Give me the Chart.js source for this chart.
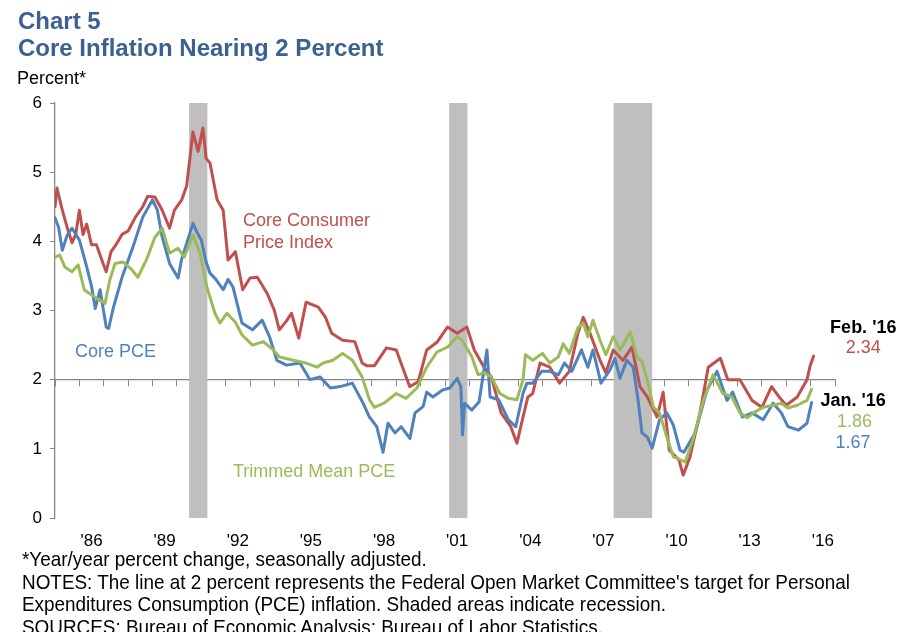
<!DOCTYPE html>
<html>
<head>
<meta charset="utf-8">
<script src="https://cdn.jsdelivr.net/npm/chart.js@4.4.1/dist/chart.umd.min.js"></script>
<style>
  body { margin: 0; background: #fff; font-family: "Liberation Sans", Arial, sans-serif; }
  #page { position: relative; width: 899px; height: 632px; overflow: hidden; }
  #chart { position: absolute; left: 0; top: 0; }
  .title { position: absolute; left: 18px; color: #3b6192; font-weight: bold; font-size: 24px; line-height: 24px; white-space: nowrap; }
  .unit { position: absolute; left: 17px; top: 69px; font-size: 18px; line-height: 18px; color: #000; }
  .note { position: absolute; left: 22px; font-size: 21px; line-height: 22px; color: #000; white-space: nowrap;
          transform: scaleX(0.9); transform-origin: left center; }
</style>
</head>
<body>
<div id="page">
  <canvas id="chart" width="899" height="632"></canvas>
  <div class="title" style="top:9px">Chart 5</div>
  <div class="title" style="top:36px">Core Inflation Nearing 2 Percent</div>
  <div class="unit">Percent*</div>
  <div class="note" style="top:548px">*Year/year percent change, seasonally adjusted.</div>
  <div class="note" style="top:571px">NOTES: The line at 2 percent represents the Federal Open Market Committee's target for Personal</div>
  <div class="note" style="top:593px">Expenditures Consumption (PCE) inflation. Shaded areas indicate recession.</div>
  <div class="note" style="top:616px">SOURCES: Bureau of Economic Analysis; Bureau of Labor Statistics.</div>
</div>
<script>
// 核心CPI（年同比，%）
const cpiDates = [1985.0, 1985.08, 1985.3, 1985.5, 1985.7, 1985.85, 1986.0, 1986.15, 1986.3, 1986.5, 1986.7, 1986.9,
  1987.1, 1987.3, 1987.5, 1987.75, 1988.0, 1988.3, 1988.6, 1988.8, 1989.1, 1989.4, 1989.7, 1989.9,
  1990.2, 1990.4, 1990.55, 1990.66, 1990.87, 1991.07, 1991.2, 1991.36, 1991.65, 1991.9, 1992.1, 1992.4,
  1992.7, 1993.0, 1993.3, 1993.7, 1994.0, 1994.2, 1994.5, 1994.7, 1995.0, 1995.3, 1995.8, 1996.1,
  1996.35, 1996.8, 1997.3, 1997.6, 1997.8, 1998.1, 1998.6, 1999.0, 1999.3, 1999.55, 1999.9, 2000.25,
  2000.67, 2001.1, 2001.5, 2001.9, 2002.2, 2002.6, 2002.9, 2003.3, 2003.7, 2003.95, 2004.2, 2004.4,
  2004.6, 2004.9, 2005.3, 2005.7, 2006.1, 2006.45, 2006.67, 2006.95, 2007.36, 2007.6, 2007.9, 2008.3,
  2008.67, 2009.0, 2009.3, 2009.7, 2009.95, 2010.2, 2010.6, 2010.77, 2011.05, 2011.46, 2011.8, 2012.3,
  2012.6, 2013.1, 2013.6, 2014.0, 2014.4, 2014.75, 2015.0, 2015.45, 2015.85, 2015.98, 2016.12];
const cpiValues = [4.5, 4.77, 4.45, 4.2, 3.98, 4.1, 4.45, 4.1, 4.25, 3.95, 3.95, 3.75,
  3.56, 3.85, 3.95, 4.1, 4.15, 4.35, 4.5, 4.65, 4.64, 4.45, 4.19, 4.45,
  4.6, 4.8, 5.25, 5.58, 5.3, 5.64, 5.2, 5.13, 4.6, 4.45, 3.73, 3.85,
  3.3, 3.47, 3.48, 3.25, 3.0, 2.72, 2.85, 2.96, 2.6, 3.12, 3.05, 2.9,
  2.67, 2.57, 2.55, 2.24, 2.2, 2.2, 2.46, 2.43, 2.14, 1.9, 1.97, 2.43,
  2.54, 2.76, 2.67, 2.76, 2.43, 2.18, 2.04, 1.52, 1.32, 1.08, 1.46, 1.75,
  1.8, 2.24, 2.18, 1.95, 2.12, 2.67, 2.9, 2.67, 2.28, 2.1, 2.43, 2.28,
  2.47, 1.9, 1.75, 1.46, 1.82, 0.98, 0.84, 0.62, 0.88, 1.52, 2.18, 2.31,
  2.0, 2.0, 1.7, 1.6, 1.9, 1.73, 1.63, 1.75, 2.0, 2.2, 2.34];

// 核心PCE
const pceDates = [1985.0, 1985.15, 1985.3, 1985.5, 1985.7, 1986.0, 1986.3, 1986.5, 1986.65, 1986.85, 1987.1, 1987.2,
  1987.4, 1987.75, 1988.2, 1988.6, 1989.0, 1989.2, 1989.4, 1989.7, 1990.05, 1990.2, 1990.4, 1990.66,
  1990.8, 1991.0, 1991.2, 1991.36, 1991.6, 1991.9, 1992.1, 1992.3, 1992.67, 1993.1, 1993.5, 1993.8,
  1994.1, 1994.5, 1995.05, 1995.46, 1995.87, 1996.3, 1996.7, 1997.2, 1997.64, 1997.9, 1998.2, 1998.46,
  1998.66, 1998.95, 1999.2, 1999.56, 1999.77, 2000.1, 2000.25, 2000.5, 2000.9, 2001.2, 2001.5, 2001.65,
  2001.72, 2001.8, 2002.1, 2002.4, 2002.72, 2002.85, 2003.2, 2003.6, 2003.9, 2004.2, 2004.36, 2004.6,
  2004.97, 2005.3, 2005.65, 2005.9, 2006.2, 2006.6, 2006.86, 2007.07, 2007.4, 2007.77, 2007.97, 2008.18,
  2008.46, 2008.72, 2008.92, 2009.08, 2009.3, 2009.5, 2009.8, 2010.1, 2010.37, 2010.64, 2010.8, 2011.26,
  2011.75, 2012.16, 2012.57, 2012.8, 2013.2, 2013.6, 2014.05, 2014.46, 2014.8, 2015.07, 2015.5, 2015.85, 2016.04];
const pceValues = [4.34, 4.2, 3.87, 4.09, 4.19, 4.02, 3.63, 3.35, 3.03, 3.3, 2.76, 2.74,
  3.05, 3.48, 3.92, 4.35, 4.6, 4.45, 4.06, 3.68, 3.47, 3.75, 3.97, 4.26,
  4.15, 4.02, 3.7, 3.54, 3.45, 3.3, 3.45, 3.34, 2.82, 2.72, 2.86, 2.62,
  2.28, 2.21, 2.24, 2.0, 2.04, 1.88, 1.9, 1.95, 1.66, 1.46, 1.32, 0.95,
  1.37, 1.23, 1.32, 1.15, 1.52, 1.61, 1.82, 1.75, 1.85, 1.88, 2.02, 1.9,
  1.2, 1.66, 1.56, 1.68, 2.43, 1.75, 1.71, 1.42, 1.32, 1.8, 1.95, 1.95,
  2.12, 2.12, 2.07, 2.24, 2.12, 2.43, 2.18, 2.43, 1.95, 2.14, 2.31, 2.02,
  2.28, 2.18, 1.71, 1.23, 1.17, 1.01, 1.42, 1.52, 1.34, 0.98, 0.95, 1.23,
  1.85, 2.12, 1.7, 1.82, 1.46, 1.52, 1.42, 1.66, 1.52, 1.32, 1.27, 1.37, 1.67];

// 截尾均值PCE
const trimDates = [1985.0, 1985.2, 1985.4, 1985.7, 1985.95, 1986.2, 1986.4, 1986.7, 1987.05, 1987.25, 1987.46, 1987.8,
  1988.15, 1988.4, 1988.77, 1989.1, 1989.4, 1989.7, 1990.05, 1990.3, 1990.66, 1990.95, 1991.23, 1991.56,
  1991.77, 1992.05, 1992.4, 1992.67, 1993.1, 1993.55, 1993.95, 1994.2, 1994.77, 1995.3, 1995.75, 1996.0,
  1996.4, 1996.8, 1997.2, 1997.6, 1997.9, 1998.1, 1998.5, 1999.0, 1999.4, 1999.85, 2000.25, 2000.67,
  2001.1, 2001.5, 2001.7, 2002.1, 2002.36, 2002.6, 2002.9, 2003.25, 2003.6, 2003.95, 2004.2, 2004.3,
  2004.6, 2005.0, 2005.3, 2005.65, 2005.85, 2006.1, 2006.45, 2006.67, 2006.86, 2007.07, 2007.36, 2007.6,
  2007.9, 2008.18, 2008.6, 2008.87, 2009.08, 2009.33, 2009.55, 2009.8, 2010.1, 2010.37, 2010.5, 2010.85,
  2011.17, 2011.6, 2012.0, 2012.4, 2012.77, 2013.1, 2013.4, 2013.7, 2014.05, 2014.46, 2014.8, 2015.07,
  2015.45, 2015.85, 2016.04];
const trimValues = [3.77, 3.8, 3.63, 3.56, 3.66, 3.3, 3.25, 3.18, 3.1, 3.44, 3.68, 3.7,
  3.59, 3.48, 3.75, 4.06, 4.19, 3.83, 3.9, 3.77, 4.09, 3.83, 3.34, 2.96,
  2.82, 2.96, 2.83, 2.65, 2.5, 2.55, 2.43, 2.33, 2.28, 2.24, 2.18, 2.24,
  2.28, 2.38, 2.28, 2.04, 1.71, 1.6, 1.66, 1.8, 1.73, 1.88, 2.18, 2.4,
  2.47, 2.62, 2.57, 2.33, 2.07, 2.1, 2.04, 1.8, 1.73, 1.71, 2.0, 2.36,
  2.28, 2.38, 2.24, 2.33, 2.52, 2.38, 2.75, 2.82, 2.62, 2.86, 2.57, 2.36,
  2.62, 2.43, 2.69, 2.33, 2.26, 1.95, 1.6, 1.52, 1.17, 0.88, 0.87, 0.81,
  1.13, 1.7, 2.07, 1.8, 1.75, 1.52, 1.45, 1.53, 1.6, 1.63, 1.66, 1.59,
  1.63, 1.7, 1.86];

// 衰退区间
const recessionStart = [1990.5, 2001.17, 2007.92];
const recessionEnd = [1991.25, 2001.92, 2009.5];

// 坐标轴
const yearMin = 1985;
const yearMax = 2017;
const yearLabels = ["'86", "'89", "'92", "'95", "'98", "'01", "'04", "'07", "'10", "'13", "'16"];
const yearLabelAt = [1986, 1989, 1992, 1995, 1998, 2001, 2004, 2007, 2010, 2013, 2016];
const yTicks = [0, 1, 2, 3, 4, 5, 6];

const RED = '#c0504d';
const BLUE = '#4f81bd';
const GREEN = '#9bbb59';
const FONT = '"Liberation Sans", Arial, sans-serif';

function toPoints(dates, values) {
    return dates.map((d, i) => ({ x: d, y: values[i] }));
}

// 衰退阴影
const recessionPlugin = {
    id: 'recessions',
    beforeDatasetsDraw(chart) {
        const { ctx, chartArea, scales } = chart;
        ctx.save();
        ctx.fillStyle = '#bfbfbf';
        recessionStart.forEach((s, i) => {
            const x1 = scales.x.getPixelForValue(s);
            const x2 = scales.x.getPixelForValue(recessionEnd[i]);
            ctx.fillRect(x1, chartArea.top, x2 - x1, chartArea.bottom - chartArea.top);
        });
        ctx.restore();
    }
};

// 图中文字标注
const notes = [
    { text: 'Core Consumer', x: 1992.71, y: 4.29, color: RED, align: 'left', bold: false },
    { text: 'Price Index', x: 1992.71, y: 3.97, color: RED, align: 'left', bold: false },
    { text: 'Core PCE', x: 1985.82, y: 2.4, color: BLUE, align: 'left', bold: false },
    { text: 'Trimmed Mean PCE', x: 1992.3, y: 0.67, color: GREEN, align: 'left', bold: false },
    { text: "Feb. '16", x: 2018.16, y: 2.75, color: '#000', align: 'center', bold: true },
    { text: '2.34', x: 2018.16, y: 2.46, color: RED, align: 'center', bold: false },
    { text: "Jan. '16", x: 2017.74, y: 1.69, color: '#000', align: 'center', bold: true },
    { text: '1.86', x: 2017.8, y: 1.39, color: GREEN, align: 'center', bold: false },
    { text: '1.67', x: 2017.74, y: 1.09, color: BLUE, align: 'center', bold: false }
];

const notesPlugin = {
    id: 'notes',
    afterDraw(chart) {
        const { ctx, scales } = chart;
        ctx.save();
        ctx.textBaseline = 'middle';
        notes.forEach(n => {
            ctx.font = (n.bold ? 'bold ' : '') + '18px ' + FONT;
            ctx.fillStyle = n.color;
            ctx.textAlign = n.align;
            ctx.fillText(n.text, scales.x.getPixelForValue(n.x), scales.y.getPixelForValue(n.y));
        });
        ctx.restore();
    }
};

const ctx = document.getElementById('chart').getContext('2d');
new Chart(ctx, {
    type: 'line',
    data: {
        datasets: [
            { label: 'Core CPI', data: toPoints(cpiDates, cpiValues), borderColor: RED, order: 3 },
            { label: 'Core PCE', data: toPoints(pceDates, pceValues), borderColor: BLUE, order: 2 },
            { label: 'Trimmed Mean PCE', data: toPoints(trimDates, trimValues), borderColor: GREEN, order: 1 }
        ]
    },
    options: {
        responsive: false,
        animation: false,
        parsing: false,
        layout: { padding: { left: 0, top: 103, right: 64, bottom: 74 } },
        elements: {
            line: { borderWidth: 3, tension: 0, borderJoinStyle: 'round', borderCapStyle: 'round' },
            point: { radius: 0 }
        },
        plugins: {
            legend: { display: false },
            tooltip: { enabled: false },
            title: { display: false }
        },
        scales: {
            x: {
                type: 'linear',
                min: yearMin,
                max: yearMax,
                position: 'bottom',
                afterBuildTicks: axis => { axis.ticks = yearLabelAt.map(v => ({ value: v + 0.5 })); },
                afterFit: axis => { axis.height = 40; },
                ticks: {
                    color: '#000',
                    font: { family: FONT, size: 17 },
                    padding: 13,
                    maxRotation: 0,
                    autoSkip: false,
                    callback: (v, i) => yearLabels[i]
                },
                grid: { display: false, drawTicks: false },
                border: { display: false }
            },
            x2: {
                type: 'linear',
                axis: 'x',
                min: yearMin,
                max: yearMax,
                position: { y: 2 },
                afterBuildTicks: axis => {
                    const t = [];
                    for (let yr = yearMin; yr <= yearMax; yr++) t.push({ value: yr });
                    axis.ticks = t;
                },
                ticks: { display: false },
                grid: { drawOnChartArea: false, drawTicks: true, tickLength: 6, color: '#868686' },
                border: { display: true, color: '#868686', width: 1.3 }
            },
            y: {
                min: 0,
                max: 6,
                afterBuildTicks: axis => { axis.ticks = yTicks.map(v => ({ value: v })); },
                afterFit: axis => { axis.width = 55; },
                ticks: {
                    color: '#000',
                    font: { family: FONT, size: 17 },
                    padding: 8
                },
                grid: { drawOnChartArea: false, drawTicks: true, tickLength: 5, color: '#868686' },
                border: { display: true, color: '#868686', width: 1.3 }
            }
        }
    },
    plugins: [recessionPlugin, notesPlugin]
});
</script>
</body>
</html>
